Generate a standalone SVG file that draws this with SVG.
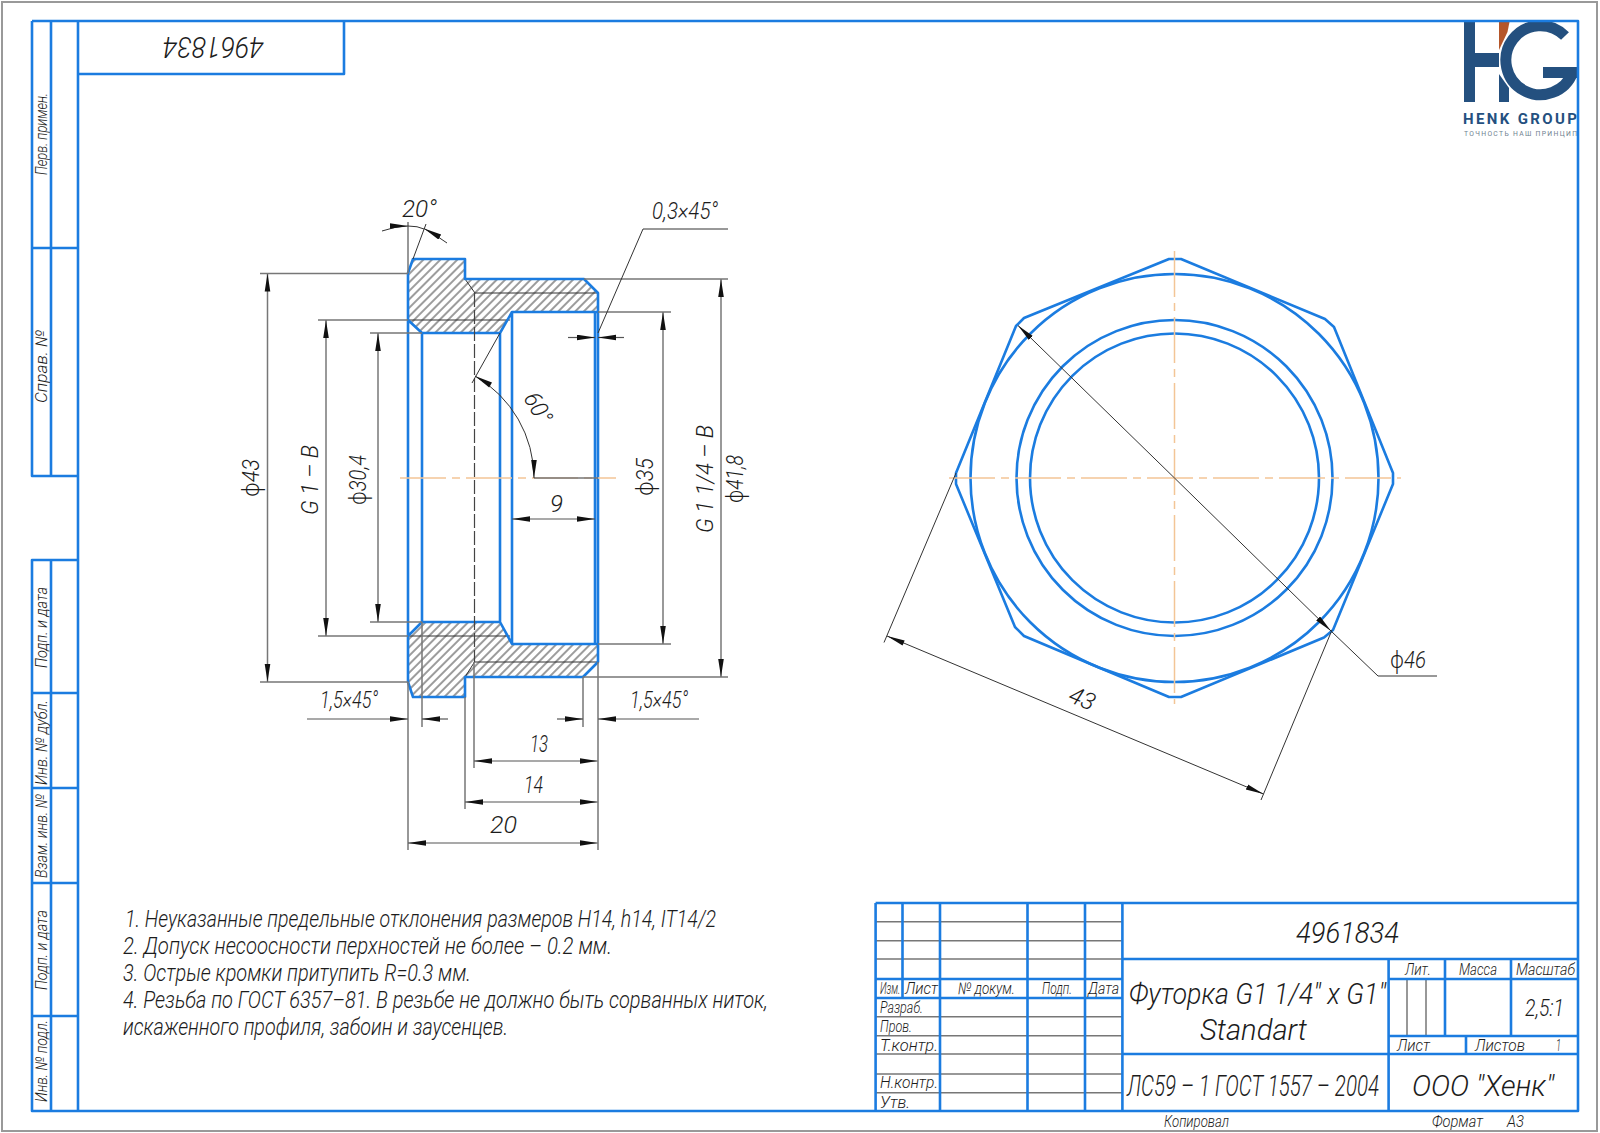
<svg xmlns="http://www.w3.org/2000/svg" width="1600" height="1133" viewBox="0 0 1600 1133">
<style>
.b{fill:none;stroke:#1b7ce0;stroke-width:2.6;stroke-linejoin:round}
.g{fill:none;stroke:#777;stroke-width:1.5}
.d{fill:none;stroke:#555;stroke-width:1.2}
.k{fill:none;stroke:#333;stroke-width:1}
.o{fill:none;stroke:#f3c596;stroke-width:1.5;stroke-dasharray:46 6 8 6}
.a{marker-end:url(#ar)}
.aa{marker-end:url(#ar);marker-start:url(#ars)}
text{font-family:Roboto,"Noto Sans",sans-serif;font-style:italic;font-weight:300;fill:#1c1c1c}
.f22{font-size:24px}.f25{font-size:29px}.f21{font-size:24px}.f14{font-size:16px}.f15{font-size:16px}
.phi{font-family:"Noto Sans",sans-serif;font-weight:300;font-style:normal}
</style>
<defs>
<marker id="ar" markerUnits="userSpaceOnUse" markerWidth="20" markerHeight="8" refX="18" refY="3" orient="auto"><path d="M0,0.2 L18,3 L0,5.8 Z" fill="#111"/></marker>
<marker id="ars" markerUnits="userSpaceOnUse" markerWidth="20" markerHeight="8" refX="0" refY="3" orient="auto"><path d="M18,0.2 L0,3 L18,5.8 Z" fill="#111"/></marker>
<pattern id="hatch" patternUnits="userSpaceOnUse" width="6" height="6" patternTransform="rotate(45)"><line x1="3" y1="0" x2="3" y2="6" stroke="#222" stroke-width="0.9"/></pattern>
</defs>
<rect width="1600" height="1133" fill="#fff"/>
<rect x="2" y="2" width="1595" height="1129" fill="#fff" stroke="#999" stroke-width="2"/>

<g id="logo">
<path d="M1464,22H1475V53H1499V67H1475V102H1464Z" fill="#24507f"/>
<path d="M1499,74L1509,88V102H1499Z" fill="#24507f"/>
<path d="M1499,22H1509.5L1507.5,32L1499,50Z" fill="#b5562a"/>
<path d="M1565,36A34.5,34.5 0 1 0 1572.8,72" fill="none" stroke="#24507f" stroke-width="11"/>
<rect x="1543" y="67" width="34" height="11" fill="#24507f"/>
<text x="1463" y="124" textLength="114" lengthAdjust="spacing" style="font-size:15px;font-weight:700;font-style:normal;fill:#24507f">HENK GROUP</text>
<text x="1464" y="135.500" textLength="113" lengthAdjust="spacing" style="font-size:6.8px;font-weight:400;font-style:normal;fill:#6f7f90">ТОЧНОСТЬ НАШ ПРИНЦИП</text>
</g>

<g id="frame">
<path class="b" d="M78,21H1578V1111H32V560H78M32,21H78V1111M51,21V476M32,21V476H78M51,560V1111M32,248H78M32,693H78M32,788H78M32,883H78M32,1016H78"/>
<path class="b" d="M78,74H344V21"/>
<text class="f25" transform="translate(264,37) rotate(180)" textLength="101" lengthAdjust="spacingAndGlyphs">4961834</text>
</g>

<g id="side-labels">
<text class="f15" transform="translate(47,175) rotate(-90)" textLength="82" lengthAdjust="spacingAndGlyphs">Перв. примен.</text>
<text class="f15" transform="translate(47,403) rotate(-90)" textLength="73" lengthAdjust="spacingAndGlyphs">Справ. №</text>
<text class="f15" transform="translate(47,668) rotate(-90)" textLength="81" lengthAdjust="spacingAndGlyphs">Подп. и дата</text>
<text class="f15" transform="translate(47,785) rotate(-90)" textLength="85" lengthAdjust="spacingAndGlyphs">Инв. № дубл.</text>
<text class="f15" transform="translate(47,878) rotate(-90)" textLength="84" lengthAdjust="spacingAndGlyphs">Взам. инв. №</text>
<text class="f15" transform="translate(47,990) rotate(-90)" textLength="80" lengthAdjust="spacingAndGlyphs">Подп. и дата</text>
<text class="f15" transform="translate(47,1102) rotate(-90)" textLength="82" lengthAdjust="spacingAndGlyphs">Инв. № подл.</text>
</g>

<g id="section-view">
<path fill="url(#hatch)" d="M408,273L413,259H465V279H584L598,293V312H512L500,333H422L408,320Z"/>
<path fill="url(#hatch)" d="M408,682L413,697H465V677H583L598,662V644H512L500,622H422L408,636Z"/>
<path class="k" d="M465,279L475,293H598M408,320H510M474.500,662H598M465,677L474.500,662M408,636H510"/>
<path class="b" d="M408,320V273L413,259H465V279H584L598,293V662L583,677H465V697H413L408,682V320L422,333H500L512,312H598M408,636L422,622H500L512,644H598M422,333V622M500,333V622M512,312V644M595,312V644"/>
<path class="o" d="M400,478H616"/>
<path d="M474.500,293V662" fill="none" stroke="#444" stroke-width="1.2" stroke-dasharray="14 3"/>
</g>

<g id="section-dimensions">
<path class="g" d="M260,273.500H408M260,682H408M318,320H408M318,636H408M370,333H422M370,622H422M598,312H671M598,644H671M584,279H728M583,677H728M408,682V850M598,662V850M465,697V809M474,662V768M422,622V727M583,677V727M408,222V273M534,478H598"/>
<path class="g aa" d="M267.500,273.500V682"/>
<path class="g aa" d="M326,320V636"/>
<path class="g aa" d="M378,333V622"/>
<path class="g aa" d="M663,312V644"/>
<path class="g aa" d="M721,279V677"/>
<path class="d aa" d="M512,519H595"/>
<path class="d aa" d="M474,761H597.500"/>
<path class="d aa" d="M465,802H597.500"/>
<path class="d aa" d="M408,843H597.500"/>
<path class="d a" d="M307,719H408"/>
<path class="d a" d="M448,719H422"/>
<path class="d a" d="M557,719H583"/>
<path class="d a" d="M699,719H598"/>
<path class="d a" d="M568,337.500H595"/>
<path class="d a" d="M624,337.500H598"/>
<path class="k" d="M413,259L426,224M500,333L472,383M598,333L643,229H728"/>
<path class="k a" d="M382,231Q396,226 408,226"/>
<path class="k" d="M408,226Q418,226 424,229"/>
<path class="k a" d="M447,243Q436,235 424,228.500"/>
<path class="k aa" d="M475,376A118,118 0 0 1 534,478"/>
<text class="f22" x="402" y="217" textLength="35" lengthAdjust="spacingAndGlyphs">20°</text>
<text class="f22" x="652" y="219" textLength="66" lengthAdjust="spacingAndGlyphs">0,3×45°</text>
<text class="f22" x="320" y="708" textLength="58" lengthAdjust="spacingAndGlyphs">1,5×45°</text>
<text class="f22" x="630" y="708" textLength="58" lengthAdjust="spacingAndGlyphs">1,5×45°</text>
<text class="f22" x="530" y="752" textLength="18" lengthAdjust="spacingAndGlyphs">13</text>
<text class="f22" x="524" y="793" textLength="19" lengthAdjust="spacingAndGlyphs">14</text>
<text class="f22" x="490" y="833" textLength="27" lengthAdjust="spacingAndGlyphs">20</text>
<text class="f22" x="550" y="512" textLength="13" lengthAdjust="spacingAndGlyphs">9</text>
<text class="f22" transform="translate(259,497) rotate(-90)" textLength="38" lengthAdjust="spacingAndGlyphs"><tspan class="phi">ϕ</tspan>43</text>
<text class="f22" transform="translate(318,515) rotate(-90)" textLength="70" lengthAdjust="spacingAndGlyphs">G 1 – B</text>
<text class="f22" transform="translate(366,505) rotate(-90)" textLength="50" lengthAdjust="spacingAndGlyphs"><tspan class="phi">ϕ</tspan>30,4</text>
<text class="f22" transform="translate(653,496) rotate(-90)" textLength="38" lengthAdjust="spacingAndGlyphs"><tspan class="phi">ϕ</tspan>35</text>
<text class="f22" transform="translate(713,533) rotate(-90)" textLength="108" lengthAdjust="spacingAndGlyphs">G 1 1/4 – B</text>
<text class="f22" transform="translate(743,503) rotate(-90)" textLength="48" lengthAdjust="spacingAndGlyphs"><tspan class="phi">ϕ</tspan>41,8</text>
<text class="f22" transform="translate(523,398) rotate(60)" textLength="32" lengthAdjust="spacingAndGlyphs">60°</text>
</g>

<g id="end-view">
<path class="b" d="M1169,259H1181L1325,319L1334,327L1393,473V484L1333,630L1324,637.500L1181,697H1169L1024,636L1015,627L956,484V473L1016,326L1024,318Z"/>
<circle class="b" cx="1174.500" cy="478" r="204"/>
<circle class="b" cx="1174.500" cy="478" r="158"/>
<circle class="b" cx="1174.500" cy="478" r="144.500"/>
<path class="o" d="M949,478H1401M1174.500,251V704"/>
</g>

<g id="end-dimensions">
<path class="k" d="M956,473L884,642.500M1332,630L1261,800"/>
<path class="k aa" d="M887,636L1263.500,794"/>
<path class="k a" d="M1174.500,478L1018,325.500"/>
<path class="k a" d="M1174.500,478L1331,631"/>
<path class="k" d="M1331,631L1378,676H1437"/>
<text class="f22" transform="translate(1067,701) rotate(23)" textLength="26" lengthAdjust="spacingAndGlyphs">43</text>
<text class="f22" x="1390" y="668" textLength="36" lengthAdjust="spacingAndGlyphs"><tspan class="phi">ϕ</tspan>46</text>
</g>

<g id="notes">
<text class="f21" x="125" y="927" textLength="591" lengthAdjust="spacingAndGlyphs">1. Неуказанные предельные отклонения размеров H14, h14, IT14/2</text>
<text class="f21" x="123" y="954" textLength="489" lengthAdjust="spacingAndGlyphs">2. Допуск несоосности перхностей не более – 0.2 мм.</text>
<text class="f21" x="123" y="981" textLength="348" lengthAdjust="spacingAndGlyphs">3. Острые кромки притупить R=0.3 мм.</text>
<text class="f21" transform="translate(123,1008) scale(.8,1)" textLength="806" lengthAdjust="spacingAndGlyphs">4. Резьба по ГОСТ 6357–81. В резьбе не должно быть сорванных ниток,</text>
<text class="f21" x="123" y="1034.500" textLength="385" lengthAdjust="spacingAndGlyphs">искаженного профиля, забоин и заусенцев.</text>
</g>

<g id="title-block">
<path class="g" d="M875.600,921.700H1122M875.600,940.700H1122M875.600,959H1122M875.600,1016.700H1122M875.600,1035.700H1122M875.600,1054H1122M875.600,1074H1122M875.600,1092.700H1122M1407,979V1036M1426,979V1036"/>
<path class="b" d="M875.600,903H1578M875.600,979H1122M875.600,998H1122M1122,959H1578M1388.600,979H1578M1388.600,1036H1578M1122,1054H1578M875.600,903V1111M902.500,903V998M940,903V1111M1027.500,903V1111M1085,903V1111M1122.400,903V1111M1388.600,959V1111M1445,959V1036M1511,959V1036M1466,1036V1054"/>
<text class="f25" x="1296" y="943" textLength="103" lengthAdjust="spacingAndGlyphs">4961834</text>
<text class="f14" transform="translate(880,994) scale(.7,1)" textLength="29" lengthAdjust="spacingAndGlyphs">Изм.</text>
<text class="f14" x="905" y="994" textLength="33" lengthAdjust="spacingAndGlyphs">Лист</text>
<text class="f14" x="958" y="994" textLength="57" lengthAdjust="spacingAndGlyphs">№ докум.</text>
<text class="f14" x="1042" y="994" textLength="30" lengthAdjust="spacingAndGlyphs">Подп.</text>
<text class="f14" x="1088" y="994" textLength="31" lengthAdjust="spacingAndGlyphs">Дата</text>
<text class="f14" x="880" y="1013" textLength="43" lengthAdjust="spacingAndGlyphs">Разраб.</text>
<text class="f14" x="880" y="1032" textLength="32" lengthAdjust="spacingAndGlyphs">Пров.</text>
<text class="f14" x="880" y="1051" textLength="58" lengthAdjust="spacingAndGlyphs">Т.контр.</text>
<text class="f14" x="880" y="1088" textLength="58" lengthAdjust="spacingAndGlyphs">Н.контр.</text>
<text class="f14" x="880" y="1108" textLength="30" lengthAdjust="spacingAndGlyphs">Утв.</text>
<text class="f25" x="1129" y="1004" textLength="257" lengthAdjust="spacingAndGlyphs">Футорка G1 1/4" x G1"</text>
<text class="f25" x="1200" y="1040" textLength="107" lengthAdjust="spacingAndGlyphs">Standart</text>
<text class="f25" transform="translate(1127,1096) scale(.7,1)" textLength="360" lengthAdjust="spacingAndGlyphs">ЛС59 – 1 ГОСТ 1557 – 2004</text>
<text class="f25" x="1412" y="1096" textLength="142" lengthAdjust="spacingAndGlyphs">ООО "Хенк"</text>
<text class="f14" x="1405" y="975" textLength="26" lengthAdjust="spacingAndGlyphs">Лит.</text>
<text class="f14" x="1459" y="975" textLength="38" lengthAdjust="spacingAndGlyphs">Масса</text>
<text class="f14" x="1516" y="975" textLength="59" lengthAdjust="spacingAndGlyphs">Масштаб</text>
<text class="f22" x="1525" y="1016" textLength="39" lengthAdjust="spacingAndGlyphs">2,5:1</text>
<text class="f14" x="1397" y="1051" textLength="33" lengthAdjust="spacingAndGlyphs">Лист</text>
<text class="f14" x="1475" y="1051" textLength="50" lengthAdjust="spacingAndGlyphs">Листов</text>
<text class="f14" x="1556" y="1051" textLength="5" lengthAdjust="spacingAndGlyphs">1</text>
<text class="f14" x="1164" y="1127" textLength="65" lengthAdjust="spacingAndGlyphs">Копировал</text>
<text class="f14" x="1432" y="1127" textLength="51" lengthAdjust="spacingAndGlyphs">Формат</text>
<text class="f14" x="1507" y="1127" textLength="17" lengthAdjust="spacingAndGlyphs">А3</text>
</g>
</svg>
